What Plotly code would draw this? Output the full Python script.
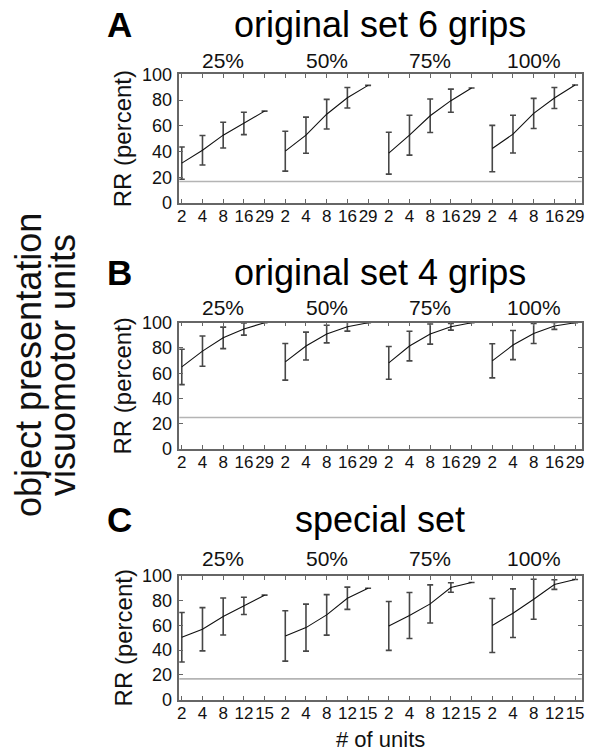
import plotly.graph_objects as go

# Ensemble sizes (# of units) per condition, and fraction of trial period used
units_ab = ["2", "4", "8", "16", "29"]
units_c = ["2", "4", "8", "12", "15"]
fractions = ["25%", "50%", "75%", "100%"]

# Recognition rate (percent), mean and SD, one row per fraction
six_grip_mean = [
    [31.0, 41.0, 52.7, 61.8, 71.4],
    [40.3, 52.7, 69.0, 81.8, 91.4],
    [38.7, 52.7, 67.8, 79.5, 89.4],
    [42.3, 53.5, 69.6, 81.6, 91.7],
]
six_grip_sd = [
    [12.5, 11.5, 10.0, 8.7, 0.0],
    [15.5, 14.0, 11.5, 8.0, 0.0],
    [16.3, 15.5, 13.0, 9.0, 0.0],
    [18.0, 14.7, 11.7, 8.2, 0.0],
]
four_grip_mean = [
    [65.0, 77.5, 88.0, 95.0, 100.0],
    [69.0, 81.5, 91.0, 96.8, 100.0],
    [68.2, 81.5, 91.0, 96.8, 100.0],
    [69.8, 82.3, 91.5, 97.4, 100.0],
]
four_grip_sd = [
    [14.0, 12.0, 8.5, 4.8, 0.0],
    [14.5, 11.0, 7.0, 3.5, 0.0],
    [13.0, 11.7, 8.0, 2.7, 0.0],
    [13.5, 11.5, 8.0, 2.7, 0.0],
]
special_mean = [
    [50.4, 56.9, 67.2, 75.8, 84.5],
    [51.5, 58.2, 68.5, 82.0, 90.1],
    [59.6, 68.0, 77.4, 90.7, 94.7],
    [59.9, 69.9, 81.2, 93.1, 97.2],
]
special_sd = [
    [20.0, 17.5, 15.0, 7.0, 0.0],
    [20.4, 19.0, 16.4, 9.0, 0.0],
    [19.8, 18.6, 15.4, 3.8, 0.0],
    [21.9, 19.7, 16.2, 3.9, 0.0],
]
# Chance level for each set (percent)
chance = [100 / 6, 100 / 4, 100 / 6]

panel_letters = ["A", "B", "C"]
panel_titles = ["original set 6 grips", "original set 4 grips", "special set"]
y_ticks = [0, 20, 40, 60, 80, 100]
side_label = ["object presentation", "visuomotor units"]

W, H = 592, 752
FONT = "Liberation Sans, Arial, sans-serif"


def px_x(p):
    return p / W


def px_y(p):
    return 1 - p / H


# Plot boxes in pixel coordinates: (top, bottom)
boxes = [(74.3, 203.0), (322.7, 449.0), (576.0, 699.5)]
box_left, box_right = 179.3, 581.7
title_y = [24.5, 272.5, 519.5]
frac_y = [61, 308, 558]

panels = [
    (six_grip_mean, six_grip_sd, units_ab),
    (four_grip_mean, four_grip_sd, units_ab),
    (special_mean, special_sd, units_c),
]

fig = go.Figure()
annotations = []
shapes = []

for i, (means, sds, units) in enumerate(panels):
    xa = "x" if i == 0 else f"x{i + 1}"
    ya = "y" if i == 0 else f"y{i + 1}"
    n = len(units)
    for g, (m, s) in enumerate(zip(means, sds)):
        xs = [g * n + k for k in range(n)]
        fig.add_trace(go.Scatter(
            x=xs, y=m, mode="lines", xaxis=xa, yaxis=ya,
            line=dict(color="#111111", width=1.1),
            error_y=dict(type="data", array=s, visible=True,
                         color="#474747", thickness=1.6, width=3),
            showlegend=False, hoverinfo="skip", cliponaxis=False,
        ))
        annotations.append(dict(
            x=g * n + (n - 1) / 2, xref=xa, y=px_y(frac_y[i]), yref="paper",
            text=fractions[g], showarrow=False,
            font=dict(family=FONT, size=21, color="#111"),
            xanchor="center", yanchor="middle",
        ))
    # chance level
    shapes.append(dict(
        type="line", xref=f"{xa} domain", yref=ya, x0=0, x1=1,
        y0=chance[i], y1=chance[i],
        line=dict(color="#b4b4b4", width=1.6), layer="below",
    ))
    top, bot = boxes[i]
    ax_common = dict(
        showline=True, mirror="ticks", linecolor="#666", linewidth=1.5,
        ticks="inside", ticklen=4, tickcolor="#666", tickwidth=1,
        showgrid=False, zeroline=False, automargin=False,
    )
    fig.update_layout(**{
        ("xaxis" if i == 0 else f"xaxis{i + 1}"): dict(
            domain=[px_x(box_left), px_x(box_right)],
            anchor=ya, range=[-0.12, 4 * n - 1 + 0.32],
            tickvals=list(range(4 * n)), ticktext=units * 4,
            tickangle=0, ticklabelstandoff=-3,
            tickfont=dict(family=FONT, size=17, color="#111"),
            **ax_common,
        ),
        ("yaxis" if i == 0 else f"yaxis{i + 1}"): dict(
            domain=[px_y(bot), px_y(top)],
            anchor=xa, range=[0, 100], tickvals=y_ticks,
            ticklabelstandoff=2,
            tickfont=dict(family=FONT, size=18, color="#111"),
            title=dict(text="RR (percent)", standoff=3,
                       font=dict(family=FONT, size=24, color="#111")),
            **ax_common,
        ),
    })
    annotations.append(dict(
        x=px_x(119), y=px_y(title_y[i]), xref="paper", yref="paper",
        text=f"<b>{panel_letters[i]}</b>", showarrow=False,
        font=dict(family=FONT, size=35, color="#000"),
        xanchor="center", yanchor="middle",
    ))
    annotations.append(dict(
        x=px_x(380), y=px_y(title_y[i]), xref="paper", yref="paper",
        text=panel_titles[i], showarrow=False,
        font=dict(family=FONT, size=36, color="#000"),
        xanchor="center", yanchor="middle",
    ))

annotations.append(dict(
    x=px_x(380), y=px_y(739), xref="paper", yref="paper",
    text="# of units", showarrow=False,
    font=dict(family=FONT, size=22, color="#111"),
    xanchor="center", yanchor="middle",
))
for line_text, cx in zip(side_label, [28, 62]):
    annotations.append(dict(
        x=px_x(cx), y=px_y(365), xref="paper", yref="paper",
        text=line_text, showarrow=False, textangle=-90,
        font=dict(family=FONT, size=36, color="#111"),
        xanchor="center", yanchor="middle",
    ))

fig.update_layout(
    width=W, height=H, autosize=False,
    margin=dict(l=0, r=0, t=0, b=0, autoexpand=False),
    paper_bgcolor="white", plot_bgcolor="white",
    annotations=annotations, shapes=shapes,
    font=dict(family=FONT),
)

fig.write_html("out.html", config={"displayModeBar": False})
